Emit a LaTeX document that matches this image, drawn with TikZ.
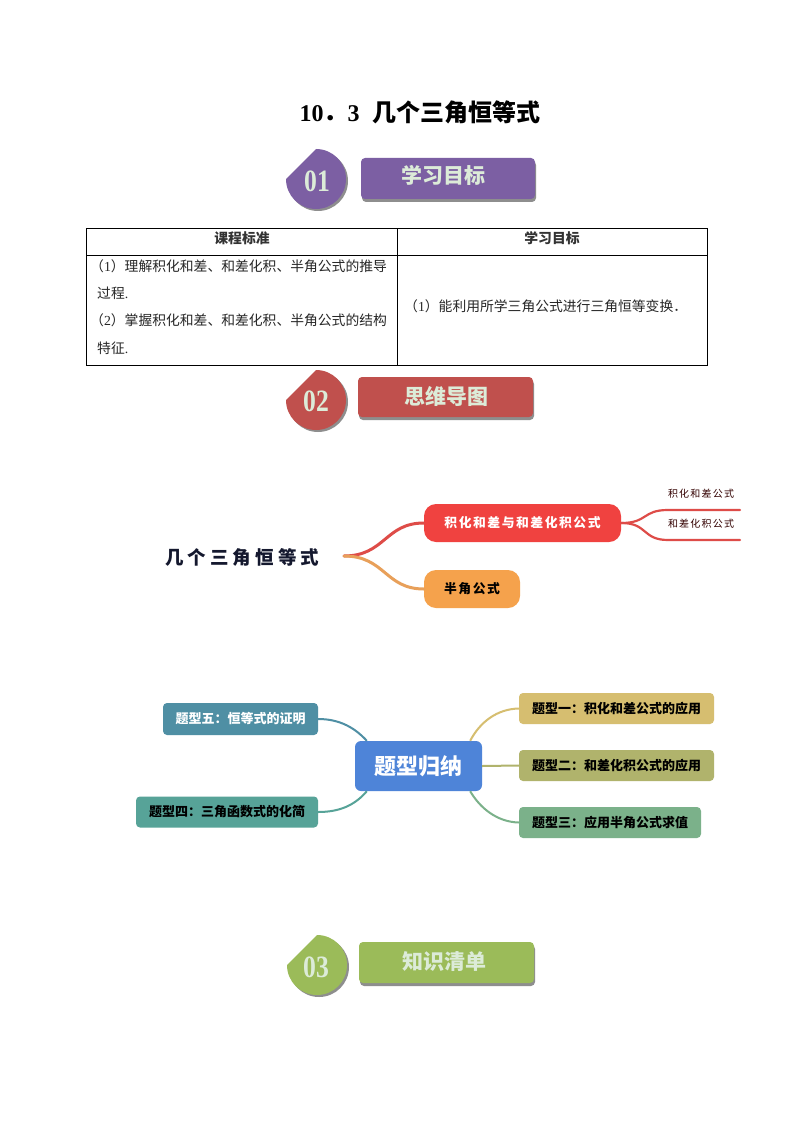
\documentclass[tikz,border=0pt]{standalone}
\usepackage{fontspec}
\setmainfont{Noto Sans CJK SC}
\newfontfamily\sernum{Liberation Serif}
\newfontfamily\spacedA[LetterSpace=22]{Noto Sans CJK SC}
\newfontfamily\spacedB[LetterSpace=12]{Noto Sans CJK SC}
\usetikzlibrary{shadows}
\definecolor{cpurple}{HTML}{7C5FA3}
\definecolor{cred}{HTML}{C0504D}
\definecolor{cgreen}{HTML}{9BBB59}
\definecolor{ctext}{HTML}{DCEBD8}
\definecolor{cshadow}{HTML}{8E8E8E}
\definecolor{mred}{HTML}{F04240}
\definecolor{mredline}{HTML}{DE4C48}
\definecolor{morange}{HTML}{F5A24C}
\definecolor{morangeline}{HTML}{E8A05A}
\definecolor{mblue}{HTML}{4E84D8}
\definecolor{tA}{HTML}{D6BE70}
\definecolor{tB}{HTML}{B0B36C}
\definecolor{tC}{HTML}{7BB18A}
\definecolor{tD}{HTML}{57A398}
\definecolor{tE}{HTML}{4F8FA4}
\definecolor{navy}{HTML}{14182E}
\newcommand{\fs}[1]{\fontsize{#1}{#1}\selectfont}
\newcommand{\badgedraw}[3]{%
  \fill[cshadow] (#1+2,#2-30+2) arc[start angle=-90,end angle=180,radius=30] -- cycle;
  \fill[#3] (#1,#2-30) arc[start angle=-90,end angle=180,radius=30] -- cycle;}
\tikzset{
  x=1pt,y=-1pt,
  barbox/.style={rounded corners=4pt,inner sep=0pt,minimum height=41pt,
    general shadow={shadow xshift=1pt,shadow yshift=-3pt,fill=cshadow}},
  bartext/.style={inner sep=0pt,text=ctext,font=\fs{21}\bfseries},
  badgetext/.style={text=ctext,inner sep=0pt,font=\sernum\bfseries},
  tcell/.style={draw=black,line width=.8pt,inner sep=0pt,minimum width=#1},
  ttext/.style={inner sep=0pt,anchor=west,font=\fs{13.8},text=black!85},
  mbox/.style={rounded corners=12pt,inner sep=0pt,minimum height=38pt,font=\fs{12.8}\bfseries\spacedB},
  tbox/.style={rounded corners=4pt,inner sep=0pt,minimum height=31pt,font=\fs{13}\bfseries},
  mline/.style={line width=3pt,line cap=round},
  tline/.style={line width=2pt},
  sublabel/.style={inner sep=0pt,font=\fs{10}\spacedB,text=black!80!red},
}
\begin{document}
\begin{tikzpicture}
\useasboundingbox (0,0) rectangle (793,1123);
\fill[white] (0,0) rectangle (793,1123);
% title
\node[inner sep=0pt] (title) at (420,112) {\fs{24}\bfseries{\sernum 10}．{\sernum 3\ }\hspace{7pt}几个三角恒等式};
% section 1
\badgedraw{316}{179}{cpurple}
\node[badgetext] (b1) at (317,181) {\scalebox{.95}[1.15]{\fs{27}01}};
\node[barbox,fill=cpurple,minimum width=174pt] (s1) at (448,178.5) {};
\node[bartext] (s1t) at (443,175) {学习目标};
% table
\node[tcell=311pt,minimum height=27pt] (h1) at (241.5,241.5) {};
\node[tcell=310pt,minimum height=27pt] (h2) at (552,241.5) {};
\node[tcell=311pt,minimum height=110pt] (c1) at (241.5,310) {};
\node[tcell=310pt,minimum height=110pt] (c2) at (552,310) {};
\node[inner sep=0pt,font=\fs{13.8}\bfseries,text=black!80] (h1t) at (242,238) {课程标准};
\node[inner sep=0pt,font=\fs{13.8}\bfseries,text=black!80] (h2t) at (552,238) {学习目标};
\node[ttext] (l1) at (90,266) {（{\sernum 1}）理解积化和差、和差化积、半角公式的推导};
\node[ttext] (l2) at (97,293) {过程{\sernum .}};
\node[ttext] (l3) at (90,320) {（{\sernum 2}）掌握积化和差、和差化积、半角公式的结构};
\node[ttext] (l4) at (97,348) {特征{\sernum .}};
\node[ttext] (r1) at (404,306) {（{\sernum 1}）能利用所学三角公式进行三角恒等变换．};
% section 2
\badgedraw{316}{400}{cred}
\node[badgetext] (b2) at (316,401) {\scalebox{.95}[1.15]{\fs{27}02}};
\node[barbox,fill=cred,minimum width=175pt,minimum height=40pt] (s2) at (445.5,397) {};
\node[bartext] (s2t) at (446,396) {思维导图};
% mind map 1
\node[inner sep=0pt,anchor=west,font=\fs{18.5}\bfseries\spacedA,text=navy] (root) at (165,557) {几个三角恒等式};
\coordinate (hub) at (344,556);
\node[mbox,fill=mred,text=white,minimum width=197pt] (m1) at (522.5,523) {积化和差与和差化积公式};
\node[mbox,fill=morange,text=black,minimum width=96pt] (m2) at (472,589) {半角公式};
\node[sublabel] (s11) at (701,494) {积化和差公式};
\node[sublabel] (s12) at (701,524) {和差化积公式};
\coordinate (e11) at (740,510);
\coordinate (e12) at (740,540);
\coordinate (k11) at (668,510);
\coordinate (k12) at (668,540);
\draw[mline,mredline] (hub) .. controls (385,556) and (385,523) .. (m1.west);
\draw[mline,morangeline] (hub) .. controls (385,556) and (385,589) .. (m2.west);
\draw[mline,mredline,line width=2.2pt] (m1.east) .. controls (648,523) and (642,510) .. (k11) -- (e11);
\draw[mline,mredline,line width=2.2pt] (m1.east) .. controls (648,523) and (642,540) .. (k12) -- (e12);
% mind map 2
\node[rounded corners=6pt,inner sep=0pt,fill=mblue,text=white,minimum width=127pt,minimum height=50pt,font=\fs{22}\bfseries] (c) at (418.5,766) {题型归纳};
\node[tbox,fill=tA,minimum width=195pt] (t1) at (616.5,708.5) {题型一：积化和差公式的应用};
\node[tbox,fill=tB,minimum width=195pt] (t2) at (616.5,765.5) {题型二：和差化积公式的应用};
\node[tbox,fill=tC,minimum width=182pt] (t3) at (610,822.5) {题型三：应用半角公式求值};
\node[tbox,fill=tD,minimum width=182pt] (t4) at (227,812) {题型四：三角函数式的化简};
\node[tbox,fill=tE,text=white,minimum width=155pt,minimum height=32pt] (t5) at (240.5,719) {题型五：恒等式的证明};
\draw[tline,tA] (c.26) .. controls (480,722) and (497,709) .. (t1.west);
\draw[tline,tB] (c.east) -- (t2.west);
\draw[tline,tC] (c.-26) .. controls (480,808) and (497,822) .. (t3.west);
\draw[tline,tD] (c.-154) .. controls (355,805) and (340,812) .. (t4.east);
\draw[tline,tE] (c.154) .. controls (355,728) and (340,719) .. (t5.east);
% section 3
\badgedraw{317}{965}{cgreen}
\node[badgetext] (b3) at (316,967) {\scalebox{.95}[1.15]{\fs{27}03}};
\node[barbox,fill=cgreen,minimum width=175pt] (s3) at (446.5,962.5) {};
\node[bartext] (s3t) at (444,962) {知识清单};
\end{tikzpicture}
\end{document}
